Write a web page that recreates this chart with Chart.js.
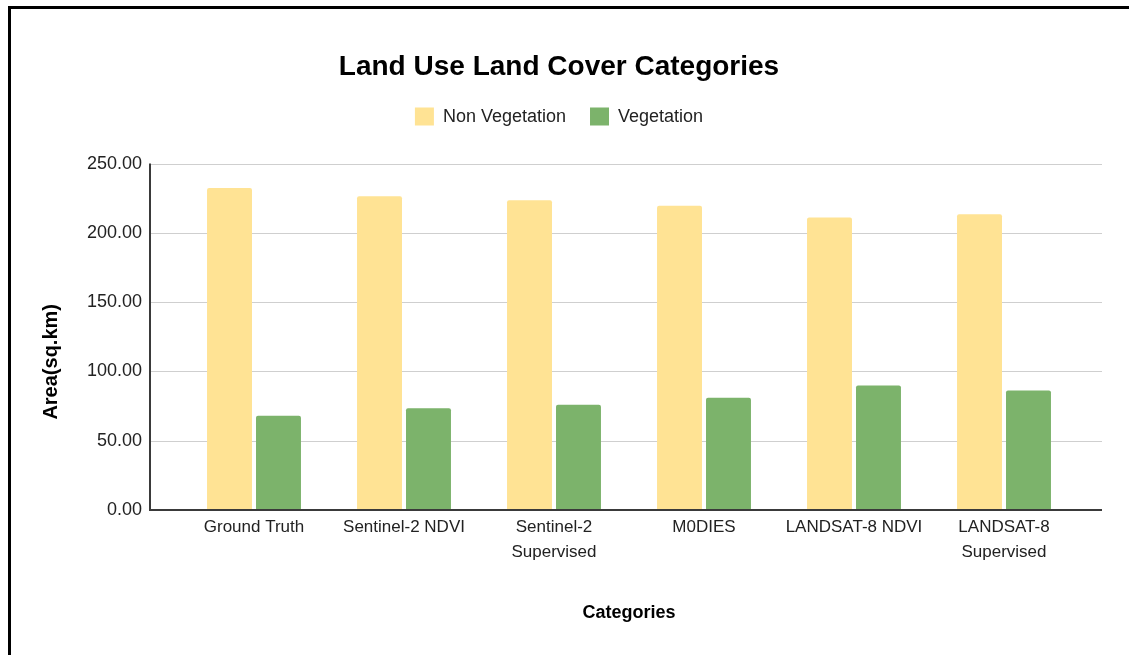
<!DOCTYPE html>
<html>
<head>
<meta charset="utf-8">
<script src="https://cdn.jsdelivr.net/npm/chart.js@4.4.1/dist/chart.umd.min.js"></script>
<style>
  html, body { margin: 0; padding: 0; background: #fff; }
  #wrap { position: relative; width: 1129px; height: 655px; overflow: hidden; }
  #frame { position: absolute; left: 8px; top: 6px; right: -10px; bottom: -10px;
           border-top: 3px solid #000; border-left: 3px solid #000; pointer-events: none; }
</style>
</head>
<body>
<div id="wrap">
  <canvas id="lulcChart" width="1129" height="655"></canvas>
  <div id="frame"></div>
</div>
<script>
var categories = [
    "Ground Truth",
    "Sentinel-2 NDVI",
    ["Sentinel-2", "Supervised"],
    "M0DIES",
    "LANDSAT-8 NDVI",
    ["LANDSAT-8", "Supervised"]
];
var nonVegetation = [232.4, 226.4, 223.6, 219.5, 211.1, 213.5];
var vegetation = [68.1, 73.5, 75.9, 81.1, 89.8, 86.2];
var yTicks = [0, 50, 100, 150, 200, 250];

var fontFamily = "'Liberation Sans', Arial, sans-serif";

// gridlines + axis lines reach a bit past the bars on both sides, like the sheet export
var axisFrame = {
    id: "axisFrame",
    beforeInit: function(chart) {
        var fit = chart.legend.fit;
        chart.legend.fit = function() {
            fit.bind(chart.legend)();
            this.height += 28;
        };
    },
    beforeDatasetsDraw: function(chart) {
        var ctx = chart.ctx, area = chart.chartArea, y = chart.scales.y;
        var left = area.left - 29, right = area.right + 23;
        ctx.save();
        ctx.strokeStyle = "#cfcfcf";
        ctx.lineWidth = 1;
        yTicks.forEach(function(v) {
            if (v === 0) return;
            var py = Math.round(y.getPixelForValue(v)) + 0.5;
            ctx.beginPath();
            ctx.moveTo(left, py);
            ctx.lineTo(right, py);
            ctx.stroke();
        });
        ctx.restore();
    },
    afterDatasetsDraw: function(chart) {
        var ctx = chart.ctx, area = chart.chartArea, y = chart.scales.y;
        var left = area.left - 29, right = area.right + 23;
        var top = y.getPixelForValue(250), base = Math.round(y.getPixelForValue(0));
        ctx.save();
        ctx.strokeStyle = "#3a3a3a";
        ctx.lineWidth = 2;
        ctx.beginPath();
        ctx.moveTo(left, top);
        ctx.lineTo(left, base);
        ctx.lineTo(right, base);
        ctx.stroke();
        ctx.restore();
    }
};

new Chart(document.getElementById("lulcChart"), {
    type: "bar",
    data: {
        labels: categories,
        datasets: [
            {
                label: "Non Vegetation",
                data: nonVegetation,
                backgroundColor: "#ffe394",
                borderRadius: 2,
                categoryPercentage: 0.653,
                barPercentage: 0.918
            },
            {
                label: "Vegetation",
                data: vegetation,
                backgroundColor: "#7cb36b",
                borderRadius: 2,
                categoryPercentage: 0.653,
                barPercentage: 0.918
            }
        ]
    },
    options: {
        responsive: false,
        animation: false,
        layout: { padding: { left: 39, right: 50, top: 10, bottom: 0 } },
        plugins: {
            tooltip: { enabled: false },
            title: {
                display: true,
                text: "Land Use Land Cover Categories",
                color: "#000",
                font: { family: fontFamily, size: 28, weight: "bold" },
                padding: { top: 40, bottom: 0 }
            },
            legend: {
                position: "top",
                labels: {
                    boxWidth: 19,
                    boxHeight: 18,
                    padding: 24,
                    color: "#222",
                    font: { family: fontFamily, size: 18 }
                }
            }
        },
        scales: {
            x: {
                grid: { display: false, drawTicks: false },
                border: { display: false },
                afterFit: function(scale) { scale.height = 145; },
                ticks: {
                    color: "#222",
                    padding: 5,
                    autoSkip: false,
                    maxRotation: 0,
                    font: { family: fontFamily, size: 17, lineHeight: 1.45 }
                },
                title: {
                    display: true,
                    text: "Categories",
                    color: "#000",
                    font: { family: fontFamily, size: 18, weight: "bold" },
                    padding: { top: 0, bottom: 31 }
                }
            },
            y: {
                min: 0,
                max: 250,
                grid: { display: false, drawTicks: false },
                border: { display: false },
                afterFit: function(scale) { scale.width = 140; },
                ticks: {
                    stepSize: 50,
                    color: "#222",
                    padding: 37,
                    font: { family: fontFamily, size: 18 },
                    callback: function(v) { return v.toFixed(2); }
                },
                title: {
                    display: true,
                    text: "Area(sq.km)         ",
                    color: "#000",
                    font: { family: fontFamily, size: 20, weight: "bold" },
                    padding: { top: 0, bottom: 0 }
                }
            }
        }
    },
    plugins: [axisFrame]
});
</script>
</body>
</html>
